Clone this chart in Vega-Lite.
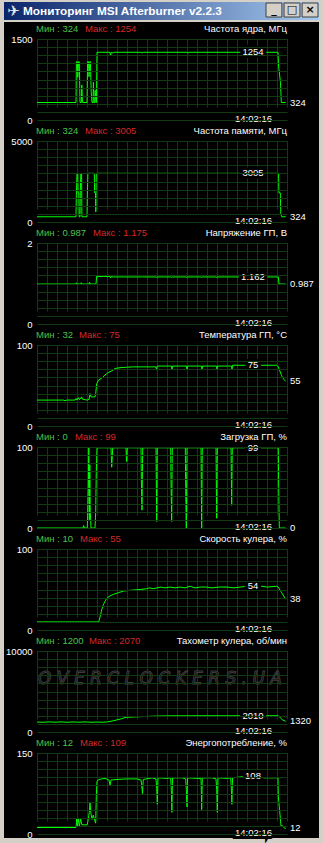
{
"$schema": "https://vega.github.io/schema/vega-lite/v6.json",
"background": "#d4d0c8",
"padding": {"left": 4, "top": 2, "right": 4, "bottom": 5},
"bounds": "flush",
"spacing": 2,
"config": {
  "view": {"stroke": null, "fill": "black"},
  "font": "Liberation Sans",
  "text": {"fontSize": 9.5, "baseline": "middle", "color": "white", "font": "Liberation Sans"},
  "axis": {"gridColor": "#113a11", "gridOpacity": 1, "gridWidth": 1, "labelColor": "white", "labelFontSize": 9.5, "labelFont": "Liberation Sans", "labelFlush": false, "labelOverlap": false, "labelBound": false, "domain": false, "ticks": false}
},
"vconcat": [
{
  "width": 315, "height": 18,
  "layer": [
    {"data": {"values": [{"t": "bar"}]}, "mark": {"type": "rect", "color": {"gradient": "linear", "x1": 0, "y1": 0, "x2": 1, "y2": 0, "stops": [{"offset": 0, "color": "#0a246a"}, {"offset": 1, "color": "#a6caf0"}]}}, "encoding": {}},
    {"data": {"values": [{"t": "✈"}]}, "mark": {"type": "text", "align": "center", "fontSize": 15, "color": "#e8e8e8", "font": "DejaVu Sans"}, "encoding": {"x": {"datum": 9.5, "type": "quantitative", "scale": {"domain": [0, 315], "range": [0, 315]}, "axis": null}, "text": {"field": "t"}}},
    {"data": {"values": [{"t": "Мониторинг MSI Afterburner v2.2.3"}]}, "mark": {"type": "text", "align": "left", "fontSize": 11.8, "fontWeight": "bold", "color": "white"}, "encoding": {"x": {"datum": 19, "type": "quantitative", "scale": {"domain": [0, 315], "range": [0, 315]}, "axis": null}, "text": {"field": "t"}}},
    {"data": {"values": [{"b": "min", "g": "_"}, {"b": "max", "g": "□"}, {"b": "close", "g": "×"}]},
     "encoding": {"x": {"field": "b", "type": "nominal", "scale": {"domain": ["min", "max", "close"], "range": [262, 314], "paddingInner": 0.12, "paddingOuter": 0}, "axis": null},
                  "y": {"datum": "b", "type": "nominal", "scale": {"domain": ["b"], "range": [1, 15], "paddingInner": 0, "paddingOuter": 0}, "axis": null}},
     "layer": [
       {"mark": {"type": "rect", "color": "#d4d0c8", "stroke": "#404040", "strokeWidth": 1}},
       {"mark": {"type": "text", "color": "black", "fontWeight": "bold", "fontSize": 11, "font": "DejaVu Sans"}, "encoding": {"text": {"field": "g"}}}
     ]}
  ],
  "resolve": {"scale": {"x": "independent", "y": "independent"}}
},
{
"spacing": 0,
"bounds": "flush",
"vconcat": [
{
  "width": 315, "height": 102,
  "resolve": {"axis": {"x": "independent", "y": "independent"}},
  "layer": [
    {"data": {"values": [{"i":0,"v":324},{"i":39,"v":324},{"i":39.4,"v":1080},{"i":40.4,"v":1080},{"i":40.8,"v":790},{"i":41.6,"v":1080},{"i":42.3,"v":1080},{"i":43,"v":324},{"i":44.3,"v":324},{"i":44.8,"v":650},{"i":45.5,"v":324},{"i":50,"v":324},{"i":50.6,"v":1080},{"i":51.5,"v":1080},{"i":52,"v":800},{"i":52.8,"v":1080},{"i":53.4,"v":1080},{"i":54.2,"v":520},{"i":55,"v":324},{"i":56,"v":324},{"i":56.4,"v":700},{"i":57,"v":324},{"i":57.8,"v":324},{"i":58.2,"v":550},{"i":59,"v":324},{"i":59.4,"v":324},{"i":60,"v":1254},{"i":73,"v":1254},{"i":73.6,"v":1190},{"i":74.2,"v":1254},{"i":76,"v":1240},{"i":77,"v":1254},{"i":104,"v":1254},{"i":105,"v":1240},{"i":106,"v":1254},{"i":150,"v":1254},{"i":151,"v":1240},{"i":152,"v":1254},{"i":241,"v":1254},{"i":241.6,"v":1000},{"i":243.5,"v":690},{"i":244.3,"v":324},{"i":248.7,"v":324}]},
     "mark": {"type": "line", "color": "#00ff00", "strokeWidth": 1},
     "encoding": {
       "x": {"field": "i", "type": "quantitative", "scale": {"domain": [0, 250], "range": [33, 283], "nice": false, "zero": false}, "axis": {"values": [0,10,20,30,40,50,60,70,80,90,100,110,120,130,140,150,160,170,180,190,200,210,220,230,240,250], "grid": true, "labels": false, "title": null}},
       "y": {"field": "v", "type": "quantitative", "scale": {"domain": [0, 1500], "range": [98, 17], "nice": false}, "axis": {"values": [0,150,300,450,600,750,900,1050,1200,1350,1500], "grid": true, "title": null, "offset": -33, "labelPadding": 5, "zindex": 1, "labelExpr": "datum.value == 0 || datum.value == 1500 ? '' + datum.value : ''"}}
     }},
    {"data": {"values": [{}]}, "mark": {"type": "rect", "color": "black"}, "encoding": {"x": {"datum": -33, "axis": null}, "x2": {"datum": 0}}},
    {"data": {"values": [{}]}, "mark": {"type": "rect", "color": "black"}, "encoding": {"x": {"datum": 251, "axis": null}, "x2": {"datum": 282}}},
    {"data": {"values": [{}]}, "mark": {"type": "rect", "color": "black"}, "encoding": {"y": {"datum": 1500, "axis": null}, "y2": {"datum": 1814.8}}},
    {"data": {"values": [{}]}, "mark": {"type": "rect", "color": "black"}, "encoding": {"y": {"datum": -18.52, "axis": null}, "y2": {"datum": -74.07}}},
    {"data": {"values": [{"t": "Мин : 324"}]}, "mark": {"type": "text", "align": "left", "color": "#4cc04c"}, "encoding": {"x": {"datum": -1, "axis": null}, "y": {"datum": 1680, "axis": null}, "text": {"field": "t"}}},
    {"data": {"values": [{"t": "Макс : 1254"}]}, "mark": {"type": "text", "align": "left", "color": "#d42a2a"}, "encoding": {"x": {"datum": 48, "axis": null}, "y": {"datum": 1680, "axis": null}, "text": {"field": "t"}}},
    {"data": {"values": [{"t": "Частота ядра, МГц"}]}, "mark": {"type": "text", "align": "right"}, "encoding": {"x": {"datum": 250, "axis": null}, "y": {"datum": 1680, "axis": null}, "text": {"field": "t"}}},
    {"data": {"values": [{"t": "1254", "v": 1254}]}, "encoding": {"x": {"datum": 216, "axis": null}, "y": {"field": "v", "type": "quantitative", "axis": null}, "text": {"field": "t"}},
     "layer": [{"mark": {"type": "text", "align": "center", "color": "black", "stroke": "black", "strokeWidth": 6}}, {"mark": {"type": "text", "align": "center"}}]},
    {"data": {"values": [{"t": "324", "v": 324}]}, "mark": {"type": "text", "align": "left"}, "encoding": {"x": {"datum": 253, "axis": null}, "y": {"field": "v", "type": "quantitative", "axis": null}, "text": {"field": "t"}}},
    {"data": {"values": [{"t": "14:02:16"}]}, "encoding": {"x": {"datum": 235, "axis": null}, "y": {"datum": 27, "axis": null}, "text": {"field": "t"}},
     "layer": [{"mark": {"type": "text", "align": "right", "color": "black", "stroke": "black", "strokeWidth": 6}}, {"mark": {"type": "text", "align": "right"}}]}
  ]
},
{
  "width": 315, "height": 102,
  "resolve": {"axis": {"x": "independent", "y": "independent"}},
  "layer": [
    {"data": {"values": [{"i":0,"v":324},{"i":39,"v":324},{"i":39.3,"v":1600},{"i":40,"v":3005},{"i":40.8,"v":3005},{"i":41.1,"v":1800},{"i":41.8,"v":1800},{"i":42.1,"v":324},{"i":43,"v":324},{"i":43.3,"v":1800},{"i":43.8,"v":3005},{"i":44.6,"v":3005},{"i":44.9,"v":324},{"i":50,"v":324},{"i":50.3,"v":1600},{"i":50.9,"v":3005},{"i":57.3,"v":3005},{"i":57.6,"v":1800},{"i":58.5,"v":1800},{"i":58.8,"v":620},{"i":59.3,"v":3005},{"i":241.6,"v":3005},{"i":241.9,"v":1800},{"i":243.3,"v":1800},{"i":243.8,"v":500},{"i":244.7,"v":324},{"i":248.7,"v":324}]},
     "mark": {"type": "line", "color": "#00ff00", "strokeWidth": 1},
     "encoding": {
       "x": {"field": "i", "type": "quantitative", "scale": {"domain": [0, 250], "range": [33, 283], "nice": false, "zero": false}, "axis": {"values": [0,10,20,30,40,50,60,70,80,90,100,110,120,130,140,150,160,170,180,190,200,210,220,230,240,250], "grid": true, "labels": false, "title": null}},
       "y": {"field": "v", "type": "quantitative", "scale": {"domain": [0, 5000], "range": [98, 17], "nice": false}, "axis": {"values": [0,500,1000,1500,2000,2500,3000,3500,4000,4500,5000], "grid": true, "title": null, "offset": -33, "labelPadding": 5, "zindex": 1, "labelExpr": "datum.value == 0 || datum.value == 5000 ? '' + datum.value : ''"}}
     }},
    {"data": {"values": [{}]}, "mark": {"type": "rect", "color": "black"}, "encoding": {"x": {"datum": -33, "axis": null}, "x2": {"datum": 0}}},
    {"data": {"values": [{}]}, "mark": {"type": "rect", "color": "black"}, "encoding": {"x": {"datum": 251, "axis": null}, "x2": {"datum": 282}}},
    {"data": {"values": [{}]}, "mark": {"type": "rect", "color": "black"}, "encoding": {"y": {"datum": 5000, "axis": null}, "y2": {"datum": 6049.4}}},
    {"data": {"values": [{}]}, "mark": {"type": "rect", "color": "black"}, "encoding": {"y": {"datum": -61.73, "axis": null}, "y2": {"datum": -246.9}}},
    {"data": {"values": [{"t": "Мин : 324"}]}, "mark": {"type": "text", "align": "left", "color": "#4cc04c"}, "encoding": {"x": {"datum": -1, "axis": null}, "y": {"datum": 5600, "axis": null}, "text": {"field": "t"}}},
    {"data": {"values": [{"t": "Макс : 3005"}]}, "mark": {"type": "text", "align": "left", "color": "#d42a2a"}, "encoding": {"x": {"datum": 48, "axis": null}, "y": {"datum": 5600, "axis": null}, "text": {"field": "t"}}},
    {"data": {"values": [{"t": "Частота памяти, МГц"}]}, "mark": {"type": "text", "align": "right"}, "encoding": {"x": {"datum": 250, "axis": null}, "y": {"datum": 5600, "axis": null}, "text": {"field": "t"}}},
    {"data": {"values": [{"t": "3005", "v": 3005}]}, "encoding": {"x": {"datum": 216, "axis": null}, "y": {"field": "v", "type": "quantitative", "axis": null}, "text": {"field": "t"}},
     "layer": [{"mark": {"type": "text", "align": "center", "color": "black", "stroke": "black", "strokeWidth": 6}}, {"mark": {"type": "text", "align": "center"}}]},
    {"data": {"values": [{"t": "324", "v": 324}]}, "mark": {"type": "text", "align": "left"}, "encoding": {"x": {"datum": 253, "axis": null}, "y": {"field": "v", "type": "quantitative", "axis": null}, "text": {"field": "t"}}},
    {"data": {"values": [{"t": "14:02:16"}]}, "encoding": {"x": {"datum": 235, "axis": null}, "y": {"datum": 90, "axis": null}, "text": {"field": "t"}},
     "layer": [{"mark": {"type": "text", "align": "right", "color": "black", "stroke": "black", "strokeWidth": 6}}, {"mark": {"type": "text", "align": "right"}}]}
  ]
},
{
  "width": 315, "height": 102,
  "resolve": {"axis": {"x": "independent", "y": "independent"}},
  "layer": [
    {"data": {"values": [{"i":0,"v":0.987},{"i":39,"v":0.987},{"i":39.5,"v":1.02},{"i":40.3,"v":0.987},{"i":43.8,"v":0.987},{"i":44.3,"v":1.02},{"i":45,"v":0.987},{"i":52,"v":0.987},{"i":52.6,"v":1.03},{"i":53.4,"v":0.987},{"i":59,"v":0.987},{"i":59.6,"v":1.175},{"i":73,"v":1.175},{"i":73.5,"v":1.135},{"i":74.3,"v":1.175},{"i":76,"v":1.162},{"i":104.5,"v":1.162},{"i":105,"v":1.15},{"i":105.5,"v":1.162},{"i":119,"v":1.162},{"i":119.5,"v":1.15},{"i":120,"v":1.162},{"i":134,"v":1.162},{"i":134.5,"v":1.15},{"i":135,"v":1.162},{"i":149,"v":1.162},{"i":149.5,"v":1.15},{"i":150,"v":1.162},{"i":164,"v":1.162},{"i":164.5,"v":1.15},{"i":165,"v":1.162},{"i":179,"v":1.162},{"i":179.5,"v":1.15},{"i":180,"v":1.162},{"i":241.3,"v":1.162},{"i":242,"v":0.987},{"i":248.7,"v":0.987}]},
     "mark": {"type": "line", "color": "#00ff00", "strokeWidth": 1},
     "encoding": {
       "x": {"field": "i", "type": "quantitative", "scale": {"domain": [0, 250], "range": [33, 283], "nice": false, "zero": false}, "axis": {"values": [0,10,20,30,40,50,60,70,80,90,100,110,120,130,140,150,160,170,180,190,200,210,220,230,240,250], "grid": true, "labels": false, "title": null}},
       "y": {"field": "v", "type": "quantitative", "scale": {"domain": [0, 2], "range": [98, 17], "nice": false}, "axis": {"values": [0,0.2,0.4,0.6,0.8,1,1.2,1.4,1.6,1.8,2], "grid": true, "title": null, "offset": -33, "labelPadding": 5, "zindex": 1, "labelExpr": "datum.value == 0 || datum.value == 2 ? '' + datum.value : ''"}}
     }},
    {"data": {"values": [{}]}, "mark": {"type": "rect", "color": "black"}, "encoding": {"x": {"datum": -33, "axis": null}, "x2": {"datum": 0}}},
    {"data": {"values": [{}]}, "mark": {"type": "rect", "color": "black"}, "encoding": {"x": {"datum": 251, "axis": null}, "x2": {"datum": 282}}},
    {"data": {"values": [{}]}, "mark": {"type": "rect", "color": "black"}, "encoding": {"y": {"datum": 2, "axis": null}, "y2": {"datum": 2.4198}}},
    {"data": {"values": [{}]}, "mark": {"type": "rect", "color": "black"}, "encoding": {"y": {"datum": -0.02469, "axis": null}, "y2": {"datum": -0.09877}}},
    {"data": {"values": [{"t": "Мин : 0.987"}]}, "mark": {"type": "text", "align": "left", "color": "#4cc04c"}, "encoding": {"x": {"datum": -1, "axis": null}, "y": {"datum": 2.24, "axis": null}, "text": {"field": "t"}}},
    {"data": {"values": [{"t": "Макс : 1.175"}]}, "mark": {"type": "text", "align": "left", "color": "#d42a2a"}, "encoding": {"x": {"datum": 56, "axis": null}, "y": {"datum": 2.24, "axis": null}, "text": {"field": "t"}}},
    {"data": {"values": [{"t": "Напряжение ГП, В"}]}, "mark": {"type": "text", "align": "right"}, "encoding": {"x": {"datum": 250, "axis": null}, "y": {"datum": 2.24, "axis": null}, "text": {"field": "t"}}},
    {"data": {"values": [{"t": "1.162", "v": 1.162}]}, "encoding": {"x": {"datum": 216, "axis": null}, "y": {"field": "v", "type": "quantitative", "axis": null}, "text": {"field": "t"}},
     "layer": [{"mark": {"type": "text", "align": "center", "color": "black", "stroke": "black", "strokeWidth": 6}}, {"mark": {"type": "text", "align": "center"}}]},
    {"data": {"values": [{"t": "0.987", "v": 0.987}]}, "mark": {"type": "text", "align": "left"}, "encoding": {"x": {"datum": 253, "axis": null}, "y": {"field": "v", "type": "quantitative", "axis": null}, "text": {"field": "t"}}},
    {"data": {"values": [{"t": "14:02:16"}]}, "encoding": {"x": {"datum": 235, "axis": null}, "y": {"datum": 0.036, "axis": null}, "text": {"field": "t"}},
     "layer": [{"mark": {"type": "text", "align": "right", "color": "black", "stroke": "black", "strokeWidth": 6}}, {"mark": {"type": "text", "align": "right"}}]}
  ]
},
{
  "width": 315, "height": 102,
  "resolve": {"axis": {"x": "independent", "y": "independent"}},
  "layer": [
    {"data": {"values": [{"i":0,"v":32},{"i":27,"v":32},{"i":28,"v":31},{"i":29,"v":32},{"i":38,"v":32},{"i":39,"v":34},{"i":40,"v":32},{"i":41.3,"v":35},{"i":42,"v":33},{"i":43,"v":33},{"i":44.7,"v":36},{"i":45.5,"v":33},{"i":50.3,"v":32},{"i":52,"v":33},{"i":53,"v":40},{"i":54,"v":36},{"i":58,"v":36},{"i":58.7,"v":40},{"i":59.7,"v":52},{"i":61.7,"v":57},{"i":64.7,"v":59},{"i":68,"v":63},{"i":71.3,"v":66},{"i":74.7,"v":68},{"i":78,"v":71},{"i":83,"v":72},{"i":89.7,"v":72.5},{"i":96.3,"v":73},{"i":119,"v":73},{"i":119.5,"v":69},{"i":120.2,"v":74},{"i":134.5,"v":74},{"i":135,"v":70},{"i":135.6,"v":74},{"i":149.5,"v":74},{"i":150,"v":70},{"i":150.6,"v":74},{"i":164.5,"v":74},{"i":165,"v":70},{"i":165.6,"v":74},{"i":179.5,"v":74},{"i":180,"v":70},{"i":180.6,"v":74},{"i":194.5,"v":74},{"i":195,"v":70},{"i":195.6,"v":75},{"i":211,"v":75},{"i":239.7,"v":75},{"i":241.3,"v":73},{"i":244.7,"v":62},{"i":246.5,"v":58},{"i":248.7,"v":55}]},
     "mark": {"type": "line", "color": "#00ff00", "strokeWidth": 1},
     "encoding": {
       "x": {"field": "i", "type": "quantitative", "scale": {"domain": [0, 250], "range": [33, 283], "nice": false, "zero": false}, "axis": {"values": [0,10,20,30,40,50,60,70,80,90,100,110,120,130,140,150,160,170,180,190,200,210,220,230,240,250], "grid": true, "labels": false, "title": null}},
       "y": {"field": "v", "type": "quantitative", "scale": {"domain": [0, 100], "range": [98, 17], "nice": false}, "axis": {"values": [0,10,20,30,40,50,60,70,80,90,100], "grid": true, "title": null, "offset": -33, "labelPadding": 5, "zindex": 1, "labelExpr": "datum.value == 0 || datum.value == 100 ? '' + datum.value : ''"}}
     }},
    {"data": {"values": [{}]}, "mark": {"type": "rect", "color": "black"}, "encoding": {"x": {"datum": -33, "axis": null}, "x2": {"datum": 0}}},
    {"data": {"values": [{}]}, "mark": {"type": "rect", "color": "black"}, "encoding": {"x": {"datum": 251, "axis": null}, "x2": {"datum": 282}}},
    {"data": {"values": [{}]}, "mark": {"type": "rect", "color": "black"}, "encoding": {"y": {"datum": 100, "axis": null}, "y2": {"datum": 120.99}}},
    {"data": {"values": [{}]}, "mark": {"type": "rect", "color": "black"}, "encoding": {"y": {"datum": -1.2346, "axis": null}, "y2": {"datum": -4.938}}},
    {"data": {"values": [{"t": "Мин : 32"}]}, "mark": {"type": "text", "align": "left", "color": "#4cc04c"}, "encoding": {"x": {"datum": -1, "axis": null}, "y": {"datum": 112, "axis": null}, "text": {"field": "t"}}},
    {"data": {"values": [{"t": "Макс : 75"}]}, "mark": {"type": "text", "align": "left", "color": "#d42a2a"}, "encoding": {"x": {"datum": 42, "axis": null}, "y": {"datum": 112, "axis": null}, "text": {"field": "t"}}},
    {"data": {"values": [{"t": "Температура ГП, °C"}]}, "mark": {"type": "text", "align": "right"}, "encoding": {"x": {"datum": 250, "axis": null}, "y": {"datum": 112, "axis": null}, "text": {"field": "t"}}},
    {"data": {"values": [{"t": "75", "v": 75}]}, "encoding": {"x": {"datum": 216, "axis": null}, "y": {"field": "v", "type": "quantitative", "axis": null}, "text": {"field": "t"}},
     "layer": [{"mark": {"type": "text", "align": "center", "color": "black", "stroke": "black", "strokeWidth": 6}}, {"mark": {"type": "text", "align": "center"}}]},
    {"data": {"values": [{"t": "55", "v": 55}]}, "mark": {"type": "text", "align": "left"}, "encoding": {"x": {"datum": 253, "axis": null}, "y": {"field": "v", "type": "quantitative", "axis": null}, "text": {"field": "t"}}},
    {"data": {"values": [{"t": "14:02:16"}]}, "encoding": {"x": {"datum": 235, "axis": null}, "y": {"datum": 1.8, "axis": null}, "text": {"field": "t"}},
     "layer": [{"mark": {"type": "text", "align": "right", "color": "black", "stroke": "black", "strokeWidth": 6}}, {"mark": {"type": "text", "align": "right"}}]}
  ]
},
{
  "width": 315, "height": 102,
  "resolve": {"axis": {"x": "independent", "y": "independent"}},
  "layer": [
    {"data": {"values": [{"i":0,"v":0},{"i":46,"v":0},{"i":46.7,"v":3},{"i":47.3,"v":0},{"i":50.3,"v":0},{"i":51.3,"v":50},{"i":51.8,"v":99},{"i":52.3,"v":10},{"i":52.8,"v":78},{"i":53.3,"v":20},{"i":54,"v":0},{"i":58,"v":0},{"i":58.7,"v":20},{"i":59.3,"v":70},{"i":60,"v":99},{"i":74,"v":99},{"i":74.3,"v":88},{"i":74.7,"v":75},{"i":75.3,"v":88},{"i":75.7,"v":99},{"i":89,"v":99},{"i":89.3,"v":88},{"i":89.7,"v":82},{"i":90.3,"v":99},{"i":104,"v":99},{"i":104.3,"v":62},{"i":105,"v":22},{"i":105.7,"v":99},{"i":119,"v":99},{"i":119.3,"v":57},{"i":119.7,"v":8},{"i":120.3,"v":99},{"i":133.7,"v":99},{"i":134,"v":57},{"i":134.7,"v":8},{"i":135.3,"v":99},{"i":148.3,"v":99},{"i":148.7,"v":50},{"i":149.3,"v":0},{"i":150,"v":99},{"i":164,"v":99},{"i":164.3,"v":50},{"i":164.7,"v":0},{"i":165.3,"v":99},{"i":179,"v":99},{"i":179.3,"v":57},{"i":179.7,"v":12},{"i":180.3,"v":99},{"i":194,"v":99},{"i":194.3,"v":64},{"i":194.7,"v":28},{"i":195.3,"v":99},{"i":241.3,"v":99},{"i":241.7,"v":50},{"i":242.3,"v":0},{"i":248.7,"v":0}]},
     "mark": {"type": "line", "color": "#00ff00", "strokeWidth": 1},
     "encoding": {
       "x": {"field": "i", "type": "quantitative", "scale": {"domain": [0, 250], "range": [33, 283], "nice": false, "zero": false}, "axis": {"values": [0,10,20,30,40,50,60,70,80,90,100,110,120,130,140,150,160,170,180,190,200,210,220,230,240,250], "grid": true, "labels": false, "title": null}},
       "y": {"field": "v", "type": "quantitative", "scale": {"domain": [0, 100], "range": [98, 17], "nice": false}, "axis": {"values": [0,10,20,30,40,50,60,70,80,90,100], "grid": true, "title": null, "offset": -33, "labelPadding": 5, "zindex": 1, "labelExpr": "datum.value == 0 || datum.value == 100 ? '' + datum.value : ''"}}
     }},
    {"data": {"values": [{}]}, "mark": {"type": "rect", "color": "black"}, "encoding": {"x": {"datum": -33, "axis": null}, "x2": {"datum": 0}}},
    {"data": {"values": [{}]}, "mark": {"type": "rect", "color": "black"}, "encoding": {"x": {"datum": 251, "axis": null}, "x2": {"datum": 282}}},
    {"data": {"values": [{}]}, "mark": {"type": "rect", "color": "black"}, "encoding": {"y": {"datum": 100, "axis": null}, "y2": {"datum": 120.99}}},
    {"data": {"values": [{}]}, "mark": {"type": "rect", "color": "black"}, "encoding": {"y": {"datum": -1.2346, "axis": null}, "y2": {"datum": -4.938}}},
    {"data": {"values": [{"t": "Мин : 0"}]}, "mark": {"type": "text", "align": "left", "color": "#4cc04c"}, "encoding": {"x": {"datum": -1, "axis": null}, "y": {"datum": 112, "axis": null}, "text": {"field": "t"}}},
    {"data": {"values": [{"t": "Макс : 99"}]}, "mark": {"type": "text", "align": "left", "color": "#d42a2a"}, "encoding": {"x": {"datum": 38, "axis": null}, "y": {"datum": 112, "axis": null}, "text": {"field": "t"}}},
    {"data": {"values": [{"t": "Загрузка ГП, %"}]}, "mark": {"type": "text", "align": "right"}, "encoding": {"x": {"datum": 250, "axis": null}, "y": {"datum": 112, "axis": null}, "text": {"field": "t"}}},
    {"data": {"values": [{"t": "99", "v": 99}]}, "encoding": {"x": {"datum": 216, "axis": null}, "y": {"field": "v", "type": "quantitative", "axis": null}, "text": {"field": "t"}},
     "layer": [{"mark": {"type": "text", "align": "center", "color": "black", "stroke": "black", "strokeWidth": 6}}, {"mark": {"type": "text", "align": "center"}}]},
    {"data": {"values": [{"t": "0", "v": 0}]}, "mark": {"type": "text", "align": "left"}, "encoding": {"x": {"datum": 253, "axis": null}, "y": {"field": "v", "type": "quantitative", "axis": null}, "text": {"field": "t"}}},
    {"data": {"values": [{"t": "14:02:16"}]}, "encoding": {"x": {"datum": 235, "axis": null}, "y": {"datum": 1.8, "axis": null}, "text": {"field": "t"}},
     "layer": [{"mark": {"type": "text", "align": "right", "color": "black", "stroke": "black", "strokeWidth": 6}}, {"mark": {"type": "text", "align": "right"}}]}
  ]
},
{
  "width": 315, "height": 102,
  "resolve": {"axis": {"x": "independent", "y": "independent"}},
  "layer": [
    {"data": {"values": [{"i":0,"v":10},{"i":61.7,"v":10},{"i":63,"v":16},{"i":64.7,"v":25},{"i":66.3,"v":31},{"i":68.3,"v":36},{"i":70.3,"v":40},{"i":73,"v":42},{"i":76.3,"v":44},{"i":81.3,"v":46},{"i":86.3,"v":48},{"i":93,"v":49},{"i":103,"v":50},{"i":109.7,"v":51},{"i":113,"v":52},{"i":116.3,"v":51},{"i":120,"v":52},{"i":124,"v":53},{"i":128,"v":52},{"i":133,"v":53},{"i":138,"v":52},{"i":143,"v":53},{"i":148,"v":52},{"i":153,"v":54},{"i":158,"v":52},{"i":163,"v":53},{"i":170,"v":53},{"i":175,"v":52},{"i":182,"v":53},{"i":190,"v":53},{"i":197,"v":52},{"i":203,"v":53},{"i":210,"v":54},{"i":225,"v":54},{"i":230,"v":53},{"i":239.7,"v":54},{"i":241.3,"v":53},{"i":244.7,"v":46},{"i":248.7,"v":38}]},
     "mark": {"type": "line", "color": "#00ff00", "strokeWidth": 1},
     "encoding": {
       "x": {"field": "i", "type": "quantitative", "scale": {"domain": [0, 250], "range": [33, 283], "nice": false, "zero": false}, "axis": {"values": [0,10,20,30,40,50,60,70,80,90,100,110,120,130,140,150,160,170,180,190,200,210,220,230,240,250], "grid": true, "labels": false, "title": null}},
       "y": {"field": "v", "type": "quantitative", "scale": {"domain": [0, 100], "range": [98, 17], "nice": false}, "axis": {"values": [0,10,20,30,40,50,60,70,80,90,100], "grid": true, "title": null, "offset": -33, "labelPadding": 5, "zindex": 1, "labelExpr": "datum.value == 0 || datum.value == 100 ? '' + datum.value : ''"}}
     }},
    {"data": {"values": [{}]}, "mark": {"type": "rect", "color": "black"}, "encoding": {"x": {"datum": -33, "axis": null}, "x2": {"datum": 0}}},
    {"data": {"values": [{}]}, "mark": {"type": "rect", "color": "black"}, "encoding": {"x": {"datum": 251, "axis": null}, "x2": {"datum": 282}}},
    {"data": {"values": [{}]}, "mark": {"type": "rect", "color": "black"}, "encoding": {"y": {"datum": 100, "axis": null}, "y2": {"datum": 120.99}}},
    {"data": {"values": [{}]}, "mark": {"type": "rect", "color": "black"}, "encoding": {"y": {"datum": -1.2346, "axis": null}, "y2": {"datum": -4.938}}},
    {"data": {"values": [{"t": "Мин : 10"}]}, "mark": {"type": "text", "align": "left", "color": "#4cc04c"}, "encoding": {"x": {"datum": -1, "axis": null}, "y": {"datum": 112, "axis": null}, "text": {"field": "t"}}},
    {"data": {"values": [{"t": "Макс : 55"}]}, "mark": {"type": "text", "align": "left", "color": "#d42a2a"}, "encoding": {"x": {"datum": 43, "axis": null}, "y": {"datum": 112, "axis": null}, "text": {"field": "t"}}},
    {"data": {"values": [{"t": "Скорость кулера, %"}]}, "mark": {"type": "text", "align": "right"}, "encoding": {"x": {"datum": 250, "axis": null}, "y": {"datum": 112, "axis": null}, "text": {"field": "t"}}},
    {"data": {"values": [{"t": "54", "v": 54}]}, "encoding": {"x": {"datum": 216, "axis": null}, "y": {"field": "v", "type": "quantitative", "axis": null}, "text": {"field": "t"}},
     "layer": [{"mark": {"type": "text", "align": "center", "color": "black", "stroke": "black", "strokeWidth": 6}}, {"mark": {"type": "text", "align": "center"}}]},
    {"data": {"values": [{"t": "38", "v": 38}]}, "mark": {"type": "text", "align": "left"}, "encoding": {"x": {"datum": 253, "axis": null}, "y": {"field": "v", "type": "quantitative", "axis": null}, "text": {"field": "t"}}},
    {"data": {"values": [{"t": "14:02:16"}]}, "encoding": {"x": {"datum": 235, "axis": null}, "y": {"datum": 1.8, "axis": null}, "text": {"field": "t"}},
     "layer": [{"mark": {"type": "text", "align": "right", "color": "black", "stroke": "black", "strokeWidth": 6}}, {"mark": {"type": "text", "align": "right"}}]}
  ]
},
{
  "width": 315, "height": 102,
  "resolve": {"axis": {"x": "independent", "y": "independent"}},
  "layer": [
    {"data": {"values": [{"i":0,"v":1230},{"i":6,"v":1200},{"i":12,"v":1250},{"i":18,"v":1210},{"i":24,"v":1250},{"i":30,"v":1200},{"i":36,"v":1240},{"i":42,"v":1210},{"i":48,"v":1250},{"i":54,"v":1200},{"i":60,"v":1230},{"i":66,"v":1210},{"i":70,"v":1240},{"i":75,"v":1350},{"i":80,"v":1500},{"i":85,"v":1650},{"i":88,"v":1800},{"i":95,"v":1850},{"i":105,"v":1900},{"i":115,"v":1950},{"i":125,"v":1980},{"i":135,"v":2000},{"i":150,"v":2000},{"i":170,"v":2010},{"i":190,"v":2000},{"i":205,"v":2010},{"i":241,"v":2010},{"i":243,"v":1800},{"i":246,"v":1450},{"i":248.7,"v":1320}]},
     "mark": {"type": "line", "color": "#00ff00", "strokeWidth": 1},
     "encoding": {
       "x": {"field": "i", "type": "quantitative", "scale": {"domain": [0, 250], "range": [33, 283], "nice": false, "zero": false}, "axis": {"values": [0,10,20,30,40,50,60,70,80,90,100,110,120,130,140,150,160,170,180,190,200,210,220,230,240,250], "grid": true, "labels": false, "title": null}},
       "y": {"field": "v", "type": "quantitative", "scale": {"domain": [0, 10000], "range": [98, 17], "nice": false}, "axis": {"values": [0,1000,2000,3000,4000,5000,6000,7000,8000,9000,10000], "grid": true, "title": null, "offset": -33, "labelPadding": 5, "zindex": 1, "labelExpr": "datum.value == 0 || datum.value == 10000 ? '' + datum.value : ''"}}
     }},
    {"data": {"values": [{}]}, "mark": {"type": "rect", "color": "black"}, "encoding": {"x": {"datum": -33, "axis": null}, "x2": {"datum": 0}}},
    {"data": {"values": [{}]}, "mark": {"type": "rect", "color": "black"}, "encoding": {"x": {"datum": 251, "axis": null}, "x2": {"datum": 282}}},
    {"data": {"values": [{}]}, "mark": {"type": "rect", "color": "black"}, "encoding": {"y": {"datum": 10000, "axis": null}, "y2": {"datum": 12098.8}}},
    {"data": {"values": [{}]}, "mark": {"type": "rect", "color": "black"}, "encoding": {"y": {"datum": -123.46, "axis": null}, "y2": {"datum": -493.8}}},
    {"data": {"values": [{"t": "O V E R C L O C K E R S . U A"}]}, "mark": {"type": "text", "align": "center", "font": "DejaVu Sans", "fontSize": 17, "fontStyle": "italic", "color": "black", "stroke": "#3c3c3c", "strokeWidth": 1}, "encoding": {"x": {"datum": 123, "axis": null}, "y": {"datum": 6540, "axis": null}, "text": {"field": "t"}}},
    {"data": {"values": [{"t": "Мин : 1200"}]}, "mark": {"type": "text", "align": "left", "color": "#4cc04c"}, "encoding": {"x": {"datum": -1, "axis": null}, "y": {"datum": 11200, "axis": null}, "text": {"field": "t"}}},
    {"data": {"values": [{"t": "Макс : 2070"}]}, "mark": {"type": "text", "align": "left", "color": "#d42a2a"}, "encoding": {"x": {"datum": 52, "axis": null}, "y": {"datum": 11200, "axis": null}, "text": {"field": "t"}}},
    {"data": {"values": [{"t": "Тахометр кулера, об/мин"}]}, "mark": {"type": "text", "align": "right"}, "encoding": {"x": {"datum": 250, "axis": null}, "y": {"datum": 11200, "axis": null}, "text": {"field": "t"}}},
    {"data": {"values": [{"t": "2010", "v": 2010}]}, "encoding": {"x": {"datum": 216, "axis": null}, "y": {"field": "v", "type": "quantitative", "axis": null}, "text": {"field": "t"}},
     "layer": [{"mark": {"type": "text", "align": "center", "color": "black", "stroke": "black", "strokeWidth": 6}}, {"mark": {"type": "text", "align": "center"}}]},
    {"data": {"values": [{"t": "1320", "v": 1320}]}, "mark": {"type": "text", "align": "left"}, "encoding": {"x": {"datum": 253, "axis": null}, "y": {"field": "v", "type": "quantitative", "axis": null}, "text": {"field": "t"}}},
    {"data": {"values": [{"t": "14:02:16"}]}, "encoding": {"x": {"datum": 235, "axis": null}, "y": {"datum": 180, "axis": null}, "text": {"field": "t"}},
     "layer": [{"mark": {"type": "text", "align": "right", "color": "black", "stroke": "black", "strokeWidth": 6}}, {"mark": {"type": "text", "align": "right"}}]}
  ]
},
{
  "width": 315, "height": 102,
  "resolve": {"axis": {"x": "independent", "y": "independent"}},
  "layer": [
    {"data": {"values": [{"i":0,"v":12},{"i":39,"v":12},{"i":39.7,"v":28},{"i":40.3,"v":15},{"i":41.3,"v":28},{"i":42.3,"v":15},{"i":43.7,"v":28},{"i":44.7,"v":17},{"i":50.3,"v":17},{"i":51.3,"v":28},{"i":52.3,"v":40},{"i":53,"v":58},{"i":54,"v":37},{"i":55,"v":27},{"i":56.3,"v":35},{"i":57.7,"v":25},{"i":58.7,"v":20},{"i":59.3,"v":70},{"i":60,"v":98},{"i":62,"v":101},{"i":68,"v":103},{"i":72,"v":100},{"i":73,"v":90},{"i":74,"v":100},{"i":80,"v":101},{"i":90,"v":102},{"i":100,"v":102},{"i":104,"v":100},{"i":104.7,"v":90},{"i":105.5,"v":75},{"i":106.3,"v":101},{"i":115,"v":104},{"i":119,"v":102},{"i":119.7,"v":85},{"i":120.3,"v":55},{"i":121,"v":104},{"i":130,"v":103},{"i":133.7,"v":104},{"i":134.3,"v":80},{"i":134.9,"v":40},{"i":135.5,"v":104},{"i":145,"v":104},{"i":148.7,"v":102},{"i":149.3,"v":82},{"i":150,"v":50},{"i":150.6,"v":104},{"i":160,"v":103},{"i":164,"v":103},{"i":164.3,"v":80},{"i":164.7,"v":45},{"i":165.3,"v":104},{"i":175,"v":104},{"i":179,"v":102},{"i":179.7,"v":82},{"i":180.3,"v":40},{"i":181,"v":104},{"i":190,"v":103},{"i":193.7,"v":104},{"i":194.3,"v":85},{"i":194.9,"v":55},{"i":195.5,"v":104},{"i":205,"v":106},{"i":208,"v":108},{"i":224,"v":104},{"i":241,"v":104},{"i":241.3,"v":70},{"i":243,"v":36},{"i":244,"v":15},{"i":246,"v":15},{"i":247.3,"v":11},{"i":248.7,"v":10}]},
     "mark": {"type": "line", "color": "#00ff00", "strokeWidth": 1},
     "encoding": {
       "x": {"field": "i", "type": "quantitative", "scale": {"domain": [0, 250], "range": [33, 283], "nice": false, "zero": false}, "axis": {"values": [0,10,20,30,40,50,60,70,80,90,100,110,120,130,140,150,160,170,180,190,200,210,220,230,240,250], "grid": true, "labels": false, "title": null}},
       "y": {"field": "v", "type": "quantitative", "scale": {"domain": [0, 150], "range": [98, 17], "nice": false}, "axis": {"values": [0,15,30,45,60,75,90,105,120,135,150], "grid": true, "title": null, "offset": -33, "labelPadding": 5, "zindex": 1, "labelExpr": "datum.value == 0 || datum.value == 150 ? '' + datum.value : ''"}}
     }},
    {"data": {"values": [{}]}, "mark": {"type": "rect", "color": "black"}, "encoding": {"x": {"datum": -33, "axis": null}, "x2": {"datum": 0}}},
    {"data": {"values": [{}]}, "mark": {"type": "rect", "color": "black"}, "encoding": {"x": {"datum": 251, "axis": null}, "x2": {"datum": 282}}},
    {"data": {"values": [{}]}, "mark": {"type": "rect", "color": "black"}, "encoding": {"y": {"datum": 150, "axis": null}, "y2": {"datum": 181.48}}},
    {"data": {"values": [{}]}, "mark": {"type": "rect", "color": "black"}, "encoding": {"y": {"datum": -1.852, "axis": null}, "y2": {"datum": -7.407}}},
    {"data": {"values": [{"t": "Мин : 12"}]}, "mark": {"type": "text", "align": "left", "color": "#4cc04c"}, "encoding": {"x": {"datum": -1, "axis": null}, "y": {"datum": 168, "axis": null}, "text": {"field": "t"}}},
    {"data": {"values": [{"t": "Макс : 109"}]}, "mark": {"type": "text", "align": "left", "color": "#d42a2a"}, "encoding": {"x": {"datum": 43, "axis": null}, "y": {"datum": 168, "axis": null}, "text": {"field": "t"}}},
    {"data": {"values": [{"t": "Энергопотребление, %"}]}, "mark": {"type": "text", "align": "right"}, "encoding": {"x": {"datum": 250, "axis": null}, "y": {"datum": 168, "axis": null}, "text": {"field": "t"}}},
    {"data": {"values": [{"t": "108", "v": 108}]}, "encoding": {"x": {"datum": 216, "axis": null}, "y": {"field": "v", "type": "quantitative", "axis": null}, "text": {"field": "t"}},
     "layer": [{"mark": {"type": "text", "align": "center", "color": "black", "stroke": "black", "strokeWidth": 6}}, {"mark": {"type": "text", "align": "center"}}]},
    {"data": {"values": [{"t": "12", "v": 12}]}, "mark": {"type": "text", "align": "left"}, "encoding": {"x": {"datum": 253, "axis": null}, "y": {"field": "v", "type": "quantitative", "axis": null}, "text": {"field": "t"}}},
    {"data": {"values": [{"t": "14:02:16"}]}, "encoding": {"x": {"datum": 235, "axis": null}, "y": {"datum": 2.7, "axis": null}, "text": {"field": "t"}},
     "layer": [{"mark": {"type": "text", "align": "right", "color": "black", "stroke": "black", "strokeWidth": 6}}, {"mark": {"type": "text", "align": "right"}}]}
  ]
}
]
}
]
}
